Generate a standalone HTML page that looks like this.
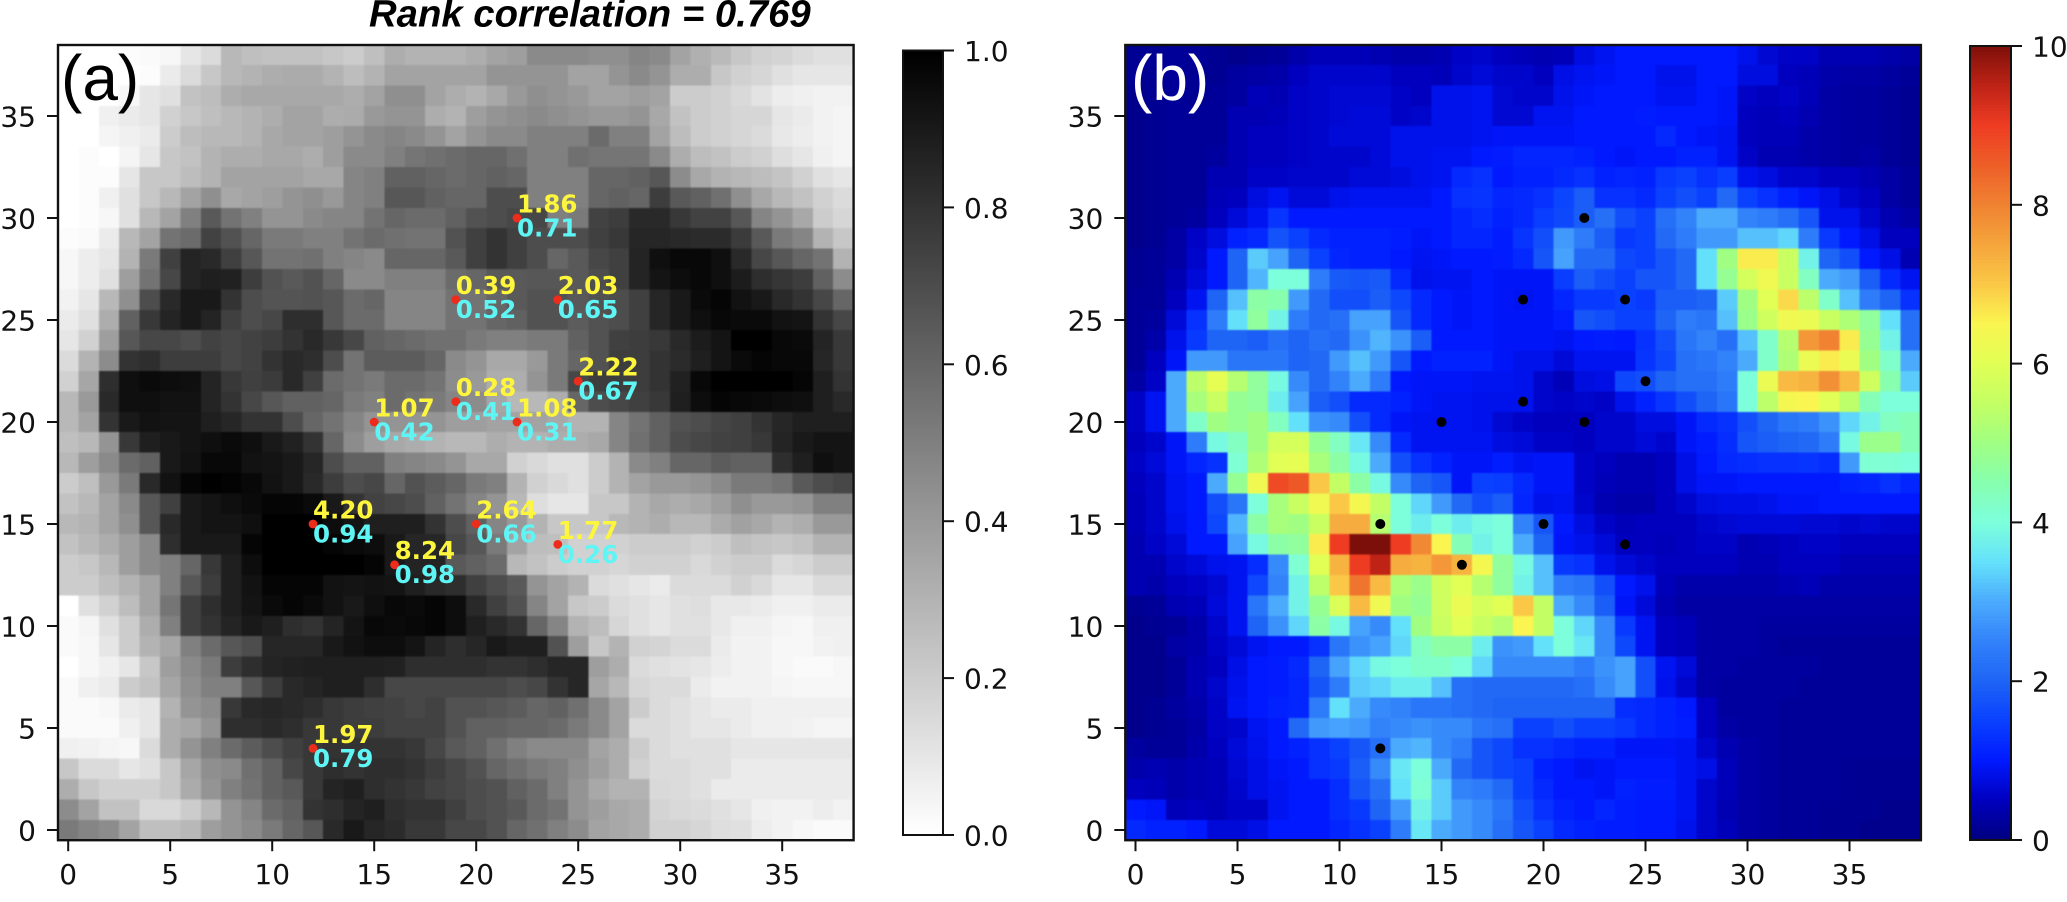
<!DOCTYPE html>
<html>
<head>
<meta charset="utf-8">
<style>
html,body{margin:0;padding:0;background:#fff;}
svg{display:block;}
text{font-family:"DejaVu Sans",sans-serif;fill:#111;}
</style>
</head>
<body>
<svg id="fig" xmlns="http://www.w3.org/2000/svg" width="2067" height="902" viewBox="0 0 2067 902">
  <defs id="defs">
    <filter id="soft-a" filterUnits="userSpaceOnUse" x="58" y="45" width="796" height="796" color-interpolation-filters="sRGB"><feGaussianBlur stdDeviation="0.7"/></filter>
    <filter id="soft-b" filterUnits="userSpaceOnUse" x="1125" y="45" width="796" height="796" color-interpolation-filters="sRGB"><feGaussianBlur stdDeviation="0.7"/></filter>
  </defs>
  <g id="cells-a" shape-rendering="crispEdges" filter="url(#soft-a)"></g>
  <g id="cells-b" shape-rendering="crispEdges" filter="url(#soft-b)"></g>
  <g id="overlay"></g>
  <text x="369" y="26.5" style="font-family:'Liberation Sans',sans-serif;font-weight:bold;font-style:italic;font-size:38.3px;fill:#000">Rank correlation = 0.769</text>
  <text x="61" y="100" style="font-family:'Liberation Sans',sans-serif;font-size:64px;fill:#000">(a)</text>
  <text x="1131" y="100" style="font-family:'Liberation Sans',sans-serif;font-size:64px;fill:#fff">(b)</text>
</svg>
<script>
const xTicks = [0,5,10,15,20,25,30,35];
const yTicks = [0,5,10,15,20,25,30,35];
const cbarATicks = [0,0.2,0.4,0.6,0.8,1];
const cbarALabels = ['0.0','0.2','0.4','0.6','0.8','1.0'];
const cbarBTicks = [0,2,4,6,8,10];
const cbarBLabels = ['0','2','4','6','8','10'];
const sitesX = [22,19,24,25,19,15,22,12,20,24,16,12];
const sitesY = [30,26,26,22,21,20,20,15,15,14,13,4];
const sitesTop = ['1.86','0.39','2.03','2.22','0.28','1.07','1.08','4.20','2.64','1.77','8.24','1.97'];
const sitesBottom = ['0.71','0.52','0.65','0.67','0.41','0.42','0.31','0.94','0.66','0.26','0.98','0.79'];

/* panel (a): rows listed from y=38 (top) down to y=0 */
const correlationRows = [
[0,0,0,.01,.02,.03,.10,.14,.28,.25,.24,.24,.24,.22,.2,.25,.32,.30,.30,.30,.32,.36,.38,.46,.46,.46,.44,.44,.48,.46,.36,.31,.27,.22,.18,.17,.14,.12,.12],
[0,0,0,0,.01,.08,.14,.22,.28,.30,.32,.33,.33,.30,.26,.3,.36,.36,.36,.36,.36,.42,.42,.42,.42,.36,.36,.42,.46,.42,.32,.32,.22,.18,.16,.12,.1,.1,.1],
[0,0,0,.03,.1,.12,.24,.26,.32,.34,.34,.34,.34,.34,.32,.36,.44,.44,.36,.32,.3,.34,.4,.44,.42,.4,.36,.36,.38,.36,.2,.2,.18,.15,.11,.07,.06,.05,.05],
[0,0,.06,.08,.1,.18,.22,.25,.28,.3,.32,.36,.36,.32,.33,.4,.42,.42,.32,.3,.38,.42,.44,.46,.44,.42,.4,.4,.42,.34,.24,.2,.18,.16,.16,.1,.08,.05,.04],
[0,0,.04,.06,.08,.2,.26,.28,.28,.3,.34,.36,.36,.38,.42,.46,.48,.46,.42,.36,.42,.46,.46,.5,.5,.5,.58,.5,.5,.36,.26,.2,.18,.16,.14,.09,.07,.05,.04],
[0,.01,0,.04,.1,.22,.24,.3,.32,.32,.34,.34,.32,.38,.46,.46,.5,.54,.56,.58,.6,.6,.56,.5,.5,.56,.54,.54,.54,.46,.32,.26,.24,.2,.18,.13,.1,.06,.04],
[0,.01,.01,.1,.22,.22,.26,.3,.36,.36,.36,.36,.34,.34,.48,.5,.62,.62,.6,.58,.6,.62,.6,.5,.5,.5,.6,.6,.62,.66,.45,.34,.3,.28,.26,.23,.18,.12,.1],
[0,.01,.06,.12,.22,.28,.36,.44,.34,.36,.38,.42,.44,.4,.48,.5,.66,.66,.62,.6,.6,.7,.7,.5,.5,.5,.6,.62,.6,.76,.65,.62,.56,.44,.34,.28,.24,.18,.14],
[0,.01,.03,.12,.28,.36,.5,.65,.55,.5,.42,.42,.46,.48,.48,.55,.6,.58,.58,.62,.68,.7,.72,.72,.5,.52,.74,.76,.84,.84,.78,.74,.74,.66,.48,.42,.34,.2,.16],
[.01,.02,.08,.28,.36,.55,.58,.74,.68,.6,.52,.52,.5,.5,.55,.58,.56,.55,.55,.68,.75,.8,.75,.7,.7,.7,.75,.78,.85,.85,.84,.83,.83,.77,.65,.52,.48,.3,.22],
[.03,.07,.1,.3,.52,.75,.86,.84,.75,.66,.55,.55,.56,.5,.48,.46,.6,.6,.6,.65,.75,.8,.75,.7,.6,.65,.72,.75,.86,.94,.97,.97,.94,.84,.72,.66,.6,.55,.3],
[.03,.07,.12,.38,.55,.72,.86,.88,.87,.76,.68,.65,.68,.6,.46,.46,.5,.5,.5,.58,.6,.65,.65,.66,.66,.65,.7,.75,.86,.92,.95,.97,.94,.89,.82,.79,.76,.62,.45],
[.05,.1,.28,.44,.7,.84,.9,.9,.8,.7,.67,.67,.68,.66,.58,.6,.48,.48,.48,.55,.55,.6,.65,.68,.68,.65,.68,.7,.75,.85,.9,.96,.98,.93,.9,.84,.8,.72,.6],
[.08,.12,.32,.62,.78,.86,.9,.86,.75,.7,.72,.82,.82,.66,.58,.58,.48,.48,.48,.55,.55,.6,.62,.68,.68,.64,.68,.7,.75,.85,.9,.94,.97,.96,.96,.93,.92,.8,.72],
[.1,.18,.38,.66,.72,.72,.7,.74,.72,.74,.76,.8,.84,.78,.72,.62,.6,.58,.56,.56,.52,.5,.5,.52,.52,.62,.68,.75,.76,.78,.84,.89,.92,1,1,.97,.96,.86,.78],
[.14,.3,.45,.8,.82,.76,.76,.76,.72,.74,.8,.84,.82,.7,.55,.64,.64,.64,.6,.46,.42,.34,.34,.4,.52,.6,.68,.76,.76,.8,.83,.88,.92,.96,.98,.97,.97,.85,.78],
[.18,.35,.82,.94,.96,.95,.94,.86,.78,.75,.77,.84,.75,.58,.55,.52,.58,.58,.55,.45,.4,.32,.32,.42,.52,.72,.76,.76,.76,.8,.87,.97,1,1,1,1,.98,.88,.8],
[.28,.4,.84,.94,.94,.93,.93,.86,.8,.72,.66,.62,.62,.6,.52,.5,.58,.55,.52,.48,.45,.35,.28,.28,.32,.6,.7,.72,.75,.78,.88,.95,.98,.97,.96,.95,.94,.88,.84],
[.28,.36,.8,.9,.93,.92,.92,.88,.85,.8,.8,.7,.6,.55,.48,.42,.42,.42,.42,.38,.38,.36,.36,.36,.34,.3,.3,.48,.55,.62,.68,.7,.73,.75,.8,.85,.88,.88,.88],
[.25,.28,.42,.78,.88,.9,.92,.94,.96,.94,.9,.87,.8,.6,.45,.38,.34,.32,.3,.28,.28,.32,.3,.3,.32,.32,.34,.48,.56,.62,.7,.72,.74,.75,.78,.86,.9,.92,.92],
[.28,.38,.46,.58,.62,.9,.93,.97,.97,.93,.92,.9,.85,.7,.62,.62,.5,.48,.46,.42,.34,.34,.18,.15,.12,.12,.2,.3,.46,.5,.6,.6,.64,.62,.62,.82,.88,.94,.92],
[.2,.25,.4,.52,.84,.93,.98,1,.99,.97,.93,.9,.84,.76,.7,.72,.6,.68,.64,.6,.52,.5,.3,.18,.15,.12,.2,.3,.36,.4,.4,.42,.46,.52,.52,.55,.65,.7,.72],
[.24,.28,.36,.46,.66,.75,.9,.92,.94,.96,.98,.98,.96,.9,.8,.74,.72,.7,.62,.55,.48,.42,.28,.13,.1,.1,.22,.22,.3,.34,.32,.34,.38,.44,.4,.4,.42,.5,.5],
[.28,.3,.36,.44,.66,.84,.9,.92,.92,.94,1,1,1,.95,.92,.88,.88,.88,.8,.7,.62,.48,.4,.3,.22,.22,.22,.28,.3,.32,.28,.28,.33,.37,.34,.3,.32,.4,.4],
[.24,.28,.32,.38,.46,.82,.9,.9,.9,.98,1,1,1,.98,.96,.95,.9,.85,.85,.72,.66,.52,.36,.26,.25,.18,.18,.18,.2,.2,.2,.18,.2,.25,.23,.22,.24,.3,.3],
[.2,.22,.28,.38,.46,.5,.6,.78,.88,.95,1,1,1,1,1,.98,.9,.86,.86,.65,.62,.58,.28,.24,.2,.18,.18,.16,.18,.18,.18,.15,.18,.2,.2,.14,.16,.2,.2],
[.2,.2,.25,.3,.36,.5,.66,.76,.88,.93,.98,.98,.98,.93,.92,.93,.92,.88,.84,.82,.75,.7,.65,.42,.36,.3,.14,.12,.1,.08,.14,.14,.14,.18,.15,.1,.1,.14,.14],
[0,.12,.18,.26,.36,.54,.75,.82,.88,.92,.96,.98,.96,.93,.9,.94,.97,.96,.98,.95,.84,.75,.68,.48,.36,.22,.2,.14,.12,.1,.12,.13,.09,.09,.08,.06,.06,.08,.08],
[.02,.04,.12,.2,.32,.5,.75,.8,.86,.9,.88,.82,.8,.86,.92,.97,.96,.97,.98,.95,.88,.84,.8,.6,.48,.3,.26,.16,.12,.1,.12,.12,.09,.06,.06,.04,.03,.06,.06],
[.02,.03,.1,.2,.3,.35,.5,.58,.66,.7,.85,.85,.85,.9,.93,.95,.95,.92,.86,.82,.85,.9,.88,.88,.68,.38,.22,.3,.18,.17,.14,.14,.08,.05,.05,.03,.03,.05,.06],
[0,.03,.06,.1,.22,.38,.46,.52,.76,.82,.86,.87,.88,.88,.88,.88,.87,.82,.82,.82,.82,.8,.8,.82,.85,.85,.38,.32,.14,.12,.11,.1,.07,.05,.05,.03,.02,.02,.03],
[.02,.06,.08,.2,.24,.35,.44,.5,.5,.66,.76,.84,.86,.88,.88,.82,.72,.72,.72,.72,.72,.72,.7,.72,.8,.85,.35,.28,.16,.14,.14,.08,.05,.05,.05,.04,.03,.03,.03],
[.02,.02,.03,.08,.1,.3,.42,.45,.78,.84,.85,.84,.82,.78,.76,.75,.74,.72,.74,.68,.68,.66,.64,.6,.62,.56,.46,.36,.2,.14,.12,.1,.08,.08,.06,.06,.06,.06,.06],
[.02,.02,.02,.06,.1,.32,.35,.42,.82,.82,.84,.82,.78,.78,.76,.76,.74,.74,.74,.68,.62,.62,.6,.6,.58,.52,.46,.36,.14,.14,.12,.1,.1,.08,.06,.06,.05,.04,.04],
[.06,.05,.04,.03,.14,.32,.42,.5,.58,.64,.7,.75,.78,.8,.8,.8,.8,.78,.72,.65,.62,.56,.5,.46,.46,.46,.36,.32,.2,.14,.12,.12,.12,.1,.1,.1,.1,.1,.1],
[.22,.14,.14,.1,.12,.22,.35,.44,.46,.56,.62,.72,.78,.82,.8,.82,.82,.8,.76,.72,.68,.6,.56,.52,.5,.44,.38,.32,.18,.14,.14,.12,.12,.08,.08,.08,.08,.08,.08],
[.32,.22,.18,.18,.18,.22,.33,.42,.5,.55,.62,.65,.78,.86,.88,.82,.8,.78,.74,.72,.7,.68,.62,.58,.5,.42,.34,.3,.3,.15,.14,.12,.08,.08,.08,.08,.08,.08,.08],
[.45,.36,.24,.24,.15,.15,.2,.28,.42,.48,.58,.62,.8,.82,.86,.88,.82,.8,.8,.75,.7,.68,.65,.58,.55,.42,.38,.34,.32,.17,.15,.14,.12,.1,.06,.05,.05,.07,.05],
[.52,.48,.45,.36,.25,.25,.28,.38,.42,.46,.52,.6,.66,.84,.9,.85,.83,.78,.78,.72,.72,.68,.6,.56,.5,.45,.36,.34,.32,.18,.18,.16,.13,.12,.07,.05,.03,.02,.02]
];

/* panel (b): rows listed from y=38 (top) down to y=0 */
const intensityRows = [
[.15,.15,.2,.2,.15,.1,.15,.2,.35,.45,.45,.45,.4,.35,.35,.4,.55,.6,.5,.45,.4,.45,.75,.9,1,1,1,1,1,1,.85,.65,.55,.55,.4,.4,.4,.35,.3],
[.15,.15,.2,.15,.15,.25,.3,.35,.5,.6,.6,.6,.6,.5,.5,.45,.6,.7,.6,.6,.5,.8,.9,.95,1,1,.85,.85,1,1,.75,.75,.5,.45,.35,.3,.3,.25,.2],
[.1,.15,.2,.15,.2,.25,.45,.4,.55,.6,.65,.65,.65,.55,.5,.85,.85,.9,.65,.6,.6,.85,.95,1,1,1,.9,.9,1,.95,.55,.5,.55,.45,.3,.25,.25,.2,.15],
[.1,.15,.2,.2,.2,.4,.4,.45,.55,.6,.65,.7,.7,.55,.6,.85,.85,.9,.65,.65,.9,.9,1,1,1,1.05,1,1,1,.95,.5,.45,.5,.4,.3,.25,.25,.2,.15],
[.1,.15,.2,.2,.2,.4,.5,.5,.55,.6,.7,.7,.7,.85,.85,.85,.85,.9,.95,.95,.95,.95,1,1,1,1,1.2,1,.95,.9,.5,.45,.45,.35,.3,.25,.25,.2,.15],
[.1,.15,.2,.2,.25,.4,.5,.5,.55,.6,.6,.6,.7,.85,.85,.9,.9,1,1.05,1.15,1.15,1.15,1.1,1,.95,1,1,1.1,1.1,.9,.55,.4,.4,.35,.3,.25,.3,.2,.15],
[.1,.15,.2,.2,.4,.4,.55,.55,.6,.6,.6,.7,.7,.75,.85,.9,1.2,1.3,1,1.1,1.1,1.2,1.3,1.1,1.15,1.1,1.4,1.5,1.3,1.45,.85,.75,.6,.6,.5,.5,.4,.3,.2],
[.1,.15,.2,.2,.45,.5,.75,.9,.7,.7,.85,.9,.9,.9,.9,1,1.3,1.35,1.15,1.2,1.3,1.55,1.9,1.3,1.3,1.2,1.5,1.7,1.5,2.1,1.5,1.3,1.1,.95,.8,.6,.5,.3,.2],
[.1,.15,.2,.25,.5,.7,.9,1.35,1,1,1,1,1,1,1,1,1.15,1.25,1.1,1.2,1.45,1.6,1.9,2.2,1.7,1.5,2.2,2.5,3,3,2.5,2.4,2.2,1.8,.85,.85,.6,.4,.3],
[.1,.15,.3,.55,.75,1.1,1.2,1.75,1.5,1.2,1.1,1.1,1.1,1.05,.95,1,1.15,1.15,1.05,1.35,1.7,2.8,2.4,1.9,1.4,1.5,2.1,2.4,2.8,2.8,3.2,3.2,3.4,2.4,1.4,1,.8,.5,.5],
[.15,.2,.3,.6,1,2,3.3,2.9,2,1.5,1.15,1.1,1.1,1,.9,.95,1,1,1.05,1.2,1.8,2.9,2.1,2.1,1.6,1.5,1.8,2.1,3.5,5,6.6,6.6,5.6,3.8,2,1.7,1,.8,.4],
[.15,.2,.4,.7,1,2,3.1,4,4,2.4,1.85,1.8,1.85,1.2,.85,.9,.9,1,.95,.95,.95,1.45,1.9,1.7,1.5,1.8,1.8,2.1,3.5,4.8,5.8,6.3,5.6,4.3,3,2.8,1.9,1.2,.9],
[.2,.2,.5,.9,2,3.2,4.6,4.5,2.8,2.1,1.7,1.7,1.9,1.6,1.2,1,.95,1,.95,.9,.95,1.15,1.4,1.4,1.5,1.4,1.9,1.9,2,3.3,5,6,6.8,5.4,4.2,3.2,2.4,2,1.3],
[.2,.25,.7,1.3,2.4,3.5,4.7,3.8,2.4,2.1,2.2,2.9,2.9,1.8,1.2,1,.95,1,.95,.95,.95,1.05,1.8,1.7,1.5,1.5,2,2.4,2.3,3.2,4.9,5.7,6.3,6.2,5.6,5.2,4.7,3.5,2.2],
[.2,.35,.85,1.4,2,2,1.9,2.2,2,2.2,2.1,2.7,3.1,2.7,1.9,1,1,1,.95,.95,.95,.9,1,1.05,1,1.3,1.7,2.3,2.5,2.2,3.2,4.2,5.3,7.7,8,6.6,4.8,3.8,2.2],
[.2,.5,.95,2.8,2.8,2.3,2.3,2.3,2,2.1,2.8,3.2,2.8,1.8,1,1.1,1.1,1.1,.95,.85,.85,.7,.9,.9,.9,1.35,1.6,2.2,2.3,2.5,3,4.2,5.2,6.2,6.6,6.2,5,4.2,3],
[.3,.55,3,5.4,6.1,5.3,4.7,3.9,2.6,2.1,2.5,3,2.4,1,.95,.95,.95,.9,.9,.85,.6,.45,.75,.8,1.6,1.7,2,2.2,2.2,2.4,4,6.2,7.2,7.3,7.8,7.2,5.7,4.5,3.3],
[.55,.9,3,5.1,5.6,4.8,4.7,3.7,2.9,1.9,1.7,1.2,1.2,1.1,.95,.9,.9,.85,.85,.85,.6,.55,.6,.55,.85,1.1,1.35,1.7,2,2.3,4,5.4,6.4,6.5,6,5.4,4.4,4,4],
[.55,.9,3,4.2,5,4.8,5,4.3,3.5,2.7,2.6,1.7,1.2,.95,.9,.9,.9,.85,.65,.55,.5,.5,.5,.6,.6,.75,.75,.95,1.2,1.3,1.7,2,2.3,2.4,2.7,3.4,3.8,4.3,4.4],
[.5,.6,.95,2.4,3.9,4.3,5,5.8,5.8,4.8,4.3,3.6,2.6,1.2,.9,.9,.9,.9,.75,.7,.55,.55,.5,.6,.6,.7,.6,.95,1.05,1.25,1.8,1.9,2,2.1,2.4,3.9,4.9,4.9,4.4],
[.55,.7,.95,1.15,1.3,4.1,5.2,6,6.1,5.1,4.6,3.9,3,1.7,1.3,1.1,.95,.95,1.05,.9,.95,.95,.55,.5,.4,.4,.5,.8,1,1.2,1.25,1.3,1.3,1.35,1.25,2.8,4.1,4.1,4],
[.5,.6,.9,1,3,4.8,6.3,8.8,8.6,7,5.5,4.6,3.9,2.6,2,1.8,.95,1.5,1.45,1.2,.95,.95,.55,.45,.4,.4,.5,.8,.95,.95,1,1,1,1,1,1.1,1.15,1.3,1.15],
[.45,.6,.9,1,1.7,2.3,4,5.1,5.6,6.3,7,6.4,5.5,4,3.4,2.8,2.1,1.7,1.9,1.15,.85,.9,.6,.4,.35,.35,.5,.6,.75,.8,.8,.85,.95,.95,1,1,1,1,1],
[.45,.6,.85,1,1.6,3.1,4.6,5.1,5,5.6,7.4,7.4,5.3,4,3.7,4,3.7,3.9,4,2.5,1.8,1,.75,.55,.45,.5,.5,.5,.6,.65,.7,.7,.7,.65,.65,.6,.65,.6,.6],
[.4,.55,.7,1,1,2.9,3.9,4.6,4.7,6.6,9,10,10,9,7.9,6.5,4.4,3.8,4,3,2,.95,.85,.7,.5,.5,.45,.5,.55,.55,.4,.45,.5,.55,.55,.5,.5,.5,.5],
[.4,.4,.6,.7,.85,.9,1.25,2.6,4.1,6,7.3,9,9.5,7.4,7.3,7.7,7.3,6.4,4.7,3.9,3.2,1.4,1.3,.85,.7,.6,.5,.5,.5,.5,.4,.4,.5,.5,.5,.4,.4,.4,.4],
[.4,.35,.5,.55,.65,.9,1.6,2.5,3.8,5.4,7,8.2,7.2,5.2,4.9,5.7,6,5.3,4.7,3.8,3.2,2.4,2.3,1.7,1,.85,.45,.35,.35,.35,.35,.35,.4,.45,.35,.35,.35,.35,.35],
[.15,.2,.4,.45,.7,.9,2.3,3,3.8,4.8,5.9,7.2,6.3,5,4.8,5.7,6.2,5.8,6,7,5.5,3,2.6,1.9,.95,.7,.4,.3,.3,.3,.3,.3,.3,.3,.3,.3,.3,.3,.3],
[.1,.15,.2,.35,.6,.9,2,2.7,3.4,4.6,3.9,2.9,2.6,3.5,5,5.6,6,5.6,5.3,6.5,5.5,4,3.4,2.6,1.4,.9,.5,.45,.3,.3,.3,.25,.25,.25,.25,.25,.25,.25,.25],
[.1,.1,.3,.35,.55,.7,.9,1,1,1.3,2.3,2.7,2.9,3.4,4.3,4.6,4.6,3.7,2.7,2.8,3.5,4,3.6,2.6,1.6,.9,.5,.45,.3,.3,.3,.25,.2,.2,.2,.2,.2,.2,.2],
[.1,.1,.2,.4,.5,.8,1,1.05,1.2,2,2.9,3.4,3.9,4,4.2,4.2,4,3.4,2.6,2.6,2.6,2.6,2.4,2.7,2.9,1.7,.9,.7,.3,.3,.25,.25,.25,.25,.2,.2,.2,.2,.2],
[.1,.1,.2,.4,.6,.85,1,1.05,1.15,1.8,2.4,3.3,3.4,3.7,3.7,3.2,2.2,2.1,2.1,2.1,2.1,2.1,2.2,2.6,2.9,1.7,.85,.6,.3,.25,.25,.25,.25,.2,.2,.2,.2,.2,.2],
[.1,.15,.25,.35,.55,.9,1,1.1,1.15,2.4,3.5,3,2.6,2.5,2.3,2.3,2.2,2.1,2,2,2,2,2,2,1.25,1.2,1.1,1,.5,.25,.25,.25,.2,.2,.2,.2,.2,.2,.2],
[.1,.15,.2,.3,.55,.6,.9,1,2.1,2.8,2.9,2.8,2.5,2.6,2.7,2.6,2.6,2.3,2.2,1.5,1.5,1.7,1.5,1.5,1.4,1.2,1.1,1.05,.5,.3,.25,.25,.2,.2,.2,.2,.2,.2,.2],
[.25,.2,.2,.35,.5,.7,.85,1,1.1,1.3,1.5,1.8,2.2,3,3.1,2.6,2.4,1.8,1.6,1.3,1.3,1.2,1.1,1.1,.95,.95,.95,.9,.6,.4,.3,.25,.2,.2,.2,.2,.2,.2,.2],
[.35,.4,.35,.4,.45,.65,.8,.95,1,1.3,1.4,1.9,2.6,3.6,4,3,2.1,1.8,1.6,1.5,1.1,1,.9,.95,1,1,1,.9,.8,.45,.3,.25,.2,.2,.2,.15,.15,.15,.15],
[.5,.45,.35,.4,.45,.6,.8,.9,1,1,1.25,1.8,2.2,3.5,4.1,3.3,2.5,2.4,2.1,1.5,1.2,1,1,.95,1.1,1.05,1.05,.9,.6,.45,.3,.25,.2,.2,.2,.15,.15,.15,.15],
[1,.95,.45,.5,.45,.55,.55,.9,1,1,1.25,1.4,2,2.8,3.8,3.3,2.8,2.6,2.3,1.7,1.3,1.1,1,1.15,1.05,1,1,.9,.6,.4,.3,.25,.2,.2,.15,.15,.15,.1,.1],
[1.2,1.1,1.1,1,.7,.7,.8,1,1,1,1.15,1.3,1.5,2.4,3.6,3,2.8,2.6,2.2,1.8,1.5,1.2,1.1,1.05,1.05,1,1,.85,.6,.45,.3,.25,.2,.2,.15,.15,.1,.1,.1]
];

const SVGNS = 'http://www.w3.org/2000/svg';
const fig = document.getElementById('fig');
const overlay = document.getElementById('overlay');
const CELL = 20.4, TOP = 45, BOTTOM = 840.2;
const LEFT_A = 58, LEFT_B = 1125.3;
const jetStops = [
 [0,0,0,128],[.5,0,0,190],[1,0,25,255],[1.5,10,65,255],[2,30,100,245],[2.5,50,130,250],[3,75,170,252],[3.5,100,225,250],
 [4,125,255,220],[4.5,135,255,175],[5,160,255,130],[5.5,195,255,100],[6,225,255,85],[6.5,250,245,80],[7,250,200,70],
 [7.5,245,165,60],[8,240,130,50],[8.5,238,95,40],[9,238,60,35],[9.5,190,35,22],[10,125,15,10]
];
function jet(v){
  v = Math.max(0, Math.min(10, v));
  for (let i = 1; i < jetStops.length; i++) {
    if (v <= jetStops[i][0]) {
      const a = jetStops[i-1], b = jetStops[i], t = (v - a[0]) / (b[0] - a[0]);
      return 'rgb(' + [1,2,3].map(k => Math.round(a[k] + (b[k] - a[k]) * t)).join(',') + ')';
    }
  }
  return 'rgb(125,15,10)';
}
function gray(v){
  const g = Math.round(255 * (1 - Math.max(0, Math.min(1, v))));
  return 'rgb(' + g + ',' + g + ',' + g + ')';
}
function yScale(v){ return 830 - v * CELL; }
function xScale(left, v){ return left + (v + 0.5) * CELL; }
function make(tag, attrs, parent){
  const el = document.createElementNS(SVGNS, tag);
  for (const k in attrs) el.setAttribute(k, attrs[k]);
  (parent || overlay).appendChild(el);
  return el;
}
function drawCells(rows, left, colorFn, groupId){
  const g = document.getElementById(groupId);
  const nRows = rows.length;
  rows.forEach((row, r) => {
    const yVal = nRows - 1 - r;
    row.forEach((val, c) => {
      const rect = make('rect', {x:(xScale(left, c) - CELL/2).toFixed(2), y:(yScale(yVal) - CELL/2).toFixed(2), width:CELL + 0.4, height:CELL + 0.4, fill:colorFn(val)}, g);
      
      
    });
  });
}
drawCells(correlationRows, LEFT_A, gray, 'cells-a');
drawCells(intensityRows, LEFT_B, jet, 'cells-b');

function drawAxes(left, prefix){
  const w = 39 * CELL;
  const frame = make('rect', {x:left, y:TOP, width:w, height:BOTTOM - TOP, fill:'none', stroke:'#111', 'stroke-width':2.4});
  
  
  xTicks.forEach(t => {
    const x = xScale(left, t);
    const tick = make('line', {x1:x, x2:x, y1:BOTTOM, y2:BOTTOM + 11, stroke:'#111', 'stroke-width':2});
    
    
    const label = make('text', {x:x, y:884, 'text-anchor':'middle', 'font-size':28});
    label.textContent = String(t);
    
    
  });
  yTicks.forEach(t => {
    const y = yScale(t);
    const tick = make('line', {x1:left - 11, x2:left, y1:y, y2:y, stroke:'#111', 'stroke-width':2});
    
    
    const label = make('text', {x:left - 22, y:y + 10.5, 'text-anchor':'end', 'font-size':28});
    label.textContent = String(t);
    
    
  });
}
drawAxes(LEFT_A, 'panel-a');
drawAxes(LEFT_B, 'panel-b');

function drawColorbar(x, top, bottom, w, min, max, colorFn, ticks, labels, prefix){
  const n = 256, h = (bottom - top) / n;
  const g = make('g', {'shape-rendering':'crispEdges'});
  
  
  for (let i = 0; i < n; i++) {
    const v = max - (max - min) * (i + 0.5) / n;
    make('rect', {x:x, y:(top + i * h).toFixed(2), width:w, height:(h + 0.6).toFixed(2), fill:colorFn(v)}, g);
  }
  const frame = make('rect', {x:x, y:top, width:w, height:bottom - top, fill:'none', stroke:'#111', 'stroke-width':2});
  
  
  ticks.forEach((t, i) => {
    const y = bottom - (t - min) / (max - min) * (bottom - top);
    const tick = make('line', {x1:x + w, x2:x + w + 11, y1:y, y2:y, stroke:'#111', 'stroke-width':2});
    
    
    const label = make('text', {x:x + w + 21, y:y + 10.5, 'font-size':28});
    label.textContent = labels[i];
    
    
  });
}
drawColorbar(903, 50.5, 835, 40, 0, 1, gray, cbarATicks, cbarALabels, 'colorbar-a');
drawColorbar(1970, 46, 840, 41, 0, 10, jet, cbarBTicks, cbarBLabels, 'colorbar-b');

sitesX.forEach((sx, i) => {
  const ax = xScale(LEFT_A, sx), bx = xScale(LEFT_B, sx), y = yScale(sitesY[i]);
  const dotA = make('circle', {cx:ax, cy:y, r:4.4, fill:'#ee2c1c'});
  
  
  const dotB = make('circle', {cx:bx, cy:y, r:5, fill:'#000'});
  
  
  const top = make('text', {x:ax, y:y - 5.6, 'font-size':24.5, 'font-weight':'bold', style:'fill:#fdf63c'});
  top.textContent = sitesTop[i];
  
  
  const bottom = make('text', {x:ax, y:y + 18.4, 'font-size':24.5, 'font-weight':'bold', style:'fill:#5ff5f5'});
  bottom.textContent = sitesBottom[i];
  
  
});
</script>
</body>
</html>
